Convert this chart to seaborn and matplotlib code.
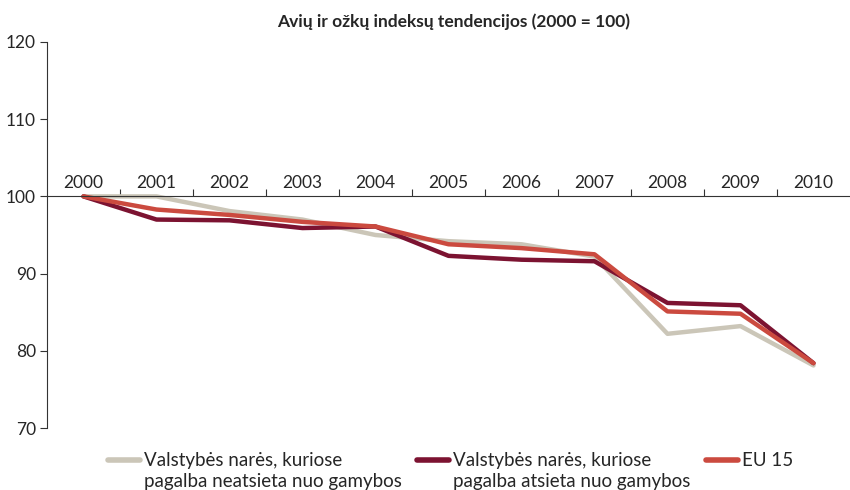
import matplotlib
matplotlib.use("Agg")
import matplotlib.pyplot as plt
import seaborn as sns
import pandas as pd
import numpy as np

years = ["2000", "2001", "2002", "2003", "2004", "2005", "2006", "2007", "2008", "2009", "2010"]
coupled = [100, 100, 98.1, 97.0, 95.0, 94.2, 93.8, 92.2, 82.2, 83.2, 78.1]
decoupled = [100, 97.0, 96.9, 95.9, 96.1, 92.3, 91.8, 91.6, 86.2, 85.9, 78.4]
eu15 = [100, 98.3, 97.6, 96.7, 96.1, 93.8, 93.3, 92.5, 85.1, 84.8, 78.4]

names = ["Valstybės narės, kuriose\npagalba neatsieta nuo gamybos",
         "Valstybės narės, kuriose\npagalba atsieta nuo gamybos",
         "EU 15"]
colors = ["#cbc6b8", "#7c1331", "#cb4a3f"]
title = "Avių ir ožkų indeksų tendencijos (2000 = 100)"

sns.set_theme(style="white")
plt.rcParams["font.family"] = ["Lato", "DejaVu Sans"]

rows = []
for name, vals in zip(names, [coupled, decoupled, eu15]):
    for i, v in enumerate(vals):
        rows.append({"idx": i, "value": v, "series": name})
df = pd.DataFrame(rows)

fig = plt.figure(figsize=(8.5, 4.9), dpi=100)
ax = fig.add_axes([47/850, 1 - 428/490, 1 - 47/850, (428 - 42)/490])

sns.lineplot(data=df, x="idx", y="value", hue="series", hue_order=names,
             palette=colors, linewidth=3.2, ax=ax, legend=True)

ax.set_xlim(-0.5, 10.5)
ax.set_ylim(70, 120)
ax.set_yticks([70, 80, 90, 100, 110, 120])
ax.tick_params(axis="y", direction="out", length=5, width=0.8, color="#333333",
               labelsize=12.5, pad=3, left=True)
for s in ["right", "bottom"]:
    ax.spines[s].set_visible(False)
ax.spines["left"].set_color("#333333")
ax.spines["left"].set_linewidth(0.8)
ax.spines["top"].set_position(("data", 100))
ax.spines["top"].set_color("#333333")
ax.spines["top"].set_linewidth(0.8)

ax.xaxis.set_ticks_position("top")
ax.set_xticks(np.arange(0.5, 10, 1))
ax.set_xticklabels([])
ax.set_xticks(np.arange(len(years)), minor=True)
ax.set_xticklabels(years, minor=True)
ax.tick_params(axis="x", which="major", direction="out", length=5, width=0.8,
               color="#333333", top=True, bottom=False)
ax.tick_params(axis="x", which="minor", length=0, labelsize=12.5, pad=4,
               top=True, bottom=False, labeltop=True, labelbottom=False)
ax.set_xlabel("")
ax.set_ylabel("")

ax.set_title(title, fontsize=12.5, fontweight="bold",
             family=["Lato", "DejaVu Sans"], pad=0, y=1 + 20/386, va="center")
ax.title.set_position((0.506, 1 + 20/386))

handles, labels = ax.get_legend_handles_labels()
labels = [l if "\n" in l else l + "\n" for l in labels]
leg = ax.legend(handles, labels, loc="upper left", bbox_to_anchor=(108/850, 1 - 452/490),
                bbox_transform=fig.transFigure,
                ncol=3, frameon=False, fontsize=13.5, handlelength=1.7,
                handletextpad=0.2, columnspacing=0.85, borderaxespad=0, borderpad=0)
for t in leg.get_texts():
    t.set_linespacing(1.25)
for h in leg.legend_handles:
    h.set_linewidth(4)
    h.set_ydata(np.asarray(h.get_ydata()) + 8.3)

fig.savefig("out.png", dpi=100)
